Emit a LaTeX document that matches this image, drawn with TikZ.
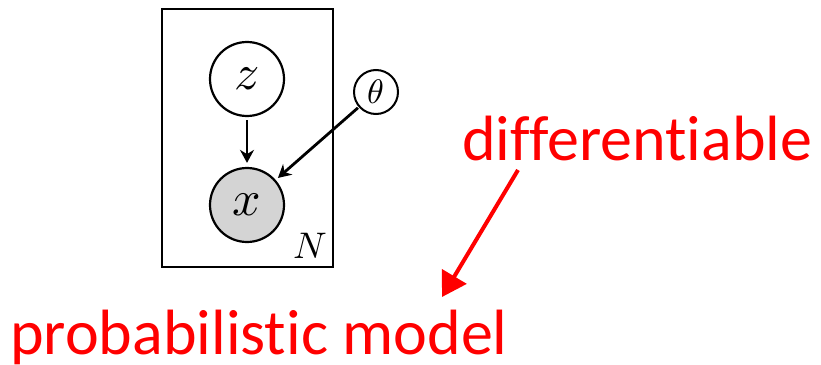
\documentclass[tikz,border=0pt]{standalone}
\usepackage{fontspec}
\setmainfont[Ligatures=NoCommon,Contextuals=NoAlternate,RawFeature={-liga;-dlig;-calt}]{Carlito}
\usepackage{unicode-math}
\setmathfont{Latin Modern Math}
\usetikzlibrary{arrows.meta}
\begin{document}
\begin{tikzpicture}[x=1pt,y=-1pt,
  var/.style={circle,draw=black,line width=2.2pt,inner sep=0pt,minimum size=74pt},
  obs/.style={var,fill=black!17},
  par/.style={circle,draw=black,line width=2pt,inner sep=0pt,minimum size=44pt},
  edge/.style={line width=2.8pt,-{Stealth[length=13pt,width=14pt]}},
  redtxt/.style={text=red,font=\fontsize{64}{66}\selectfont,inner sep=0pt},
  redarrow/.style={draw=red,line width=4pt,-{Triangle[length=24pt,width=28pt]}}]
\useasboundingbox (0,0) rectangle (821,364);
\draw[line width=2.6pt] (162,9) rectangle (333,267);
\node[var] (z) at (247,79) {\fontsize{50}{52}\selectfont $z$};
\node[obs] (x) at (247,205) {\fontsize{50}{52}\selectfont $x$};
\node[par] (t) at (376,92) {\fontsize{34}{36}\selectfont $\theta$};
\node[anchor=south east,inner sep=0pt] (N) at (327,259) {\fontsize{37}{39}\selectfont $N$};
\draw[edge,shorten <=3pt,shorten >=4pt] (z) -- (x);
\draw[edge,shorten <=1pt,shorten >=3pt] (t) -- (x);
\node[redtxt,anchor=base west] (d) at (462,160) {differentiable};
\node[redtxt,anchor=base west] (p) at (10,354) {probabilistic model};
\coordinate (a1) at (518,170);
\coordinate (a2) at (442,297);
\draw[redarrow] (a1) -- (a2);
\end{tikzpicture}
\end{document}
